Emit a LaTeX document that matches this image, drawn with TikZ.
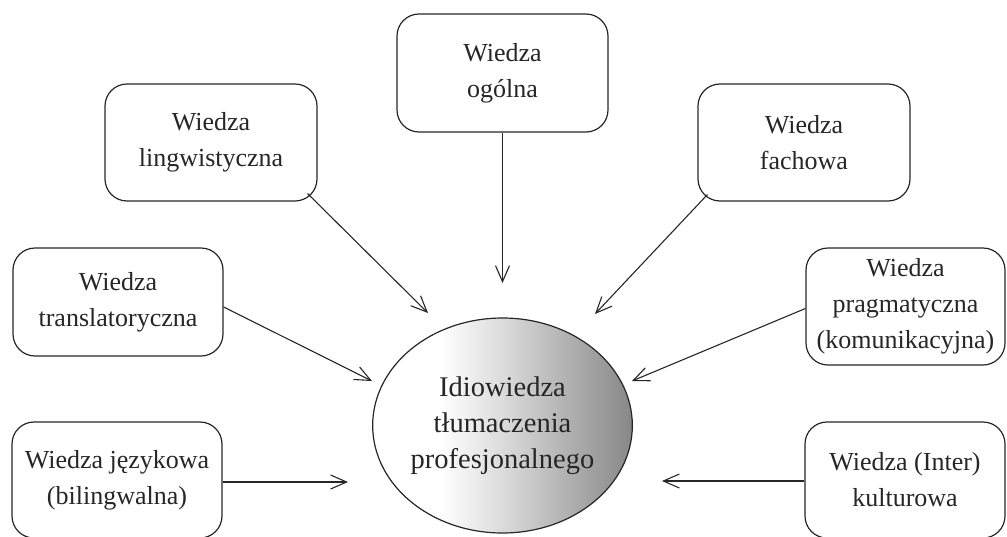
\documentclass[tikz,border=0pt]{standalone}
\usepackage{fontspec}
\setmainfont{Liberation Serif}
\usetikzlibrary{shapes.geometric,arrows.meta,calc}

% left part white, darkening towards the right edge
\pgfdeclarehorizontalshading{idioshade}{100bp}{%
  color(0bp)=(white);
  color(25bp)=(white);
  color(38bp)=(white);
  color(50bp)=(black!14);
  color(62bp)=(black!30);
  color(75bp)=(black!47);
  color(100bp)=(black!47)}

\tikzset{
  knowbox/.style={draw=black!85, line width=1.2pt, rounded corners=22pt,
    align=center, inner sep=0pt,
    font=\fontsize{26}{36}\selectfont, text=black!85},
  core/.style={ellipse, draw=black!85, line width=1.2pt, shading=idioshade,
    align=center, inner sep=0pt, minimum width=255pt, minimum height=215pt,
    font=\fontsize{28.5}{36}\selectfont, text=black!85},
  feed/.style={draw=black!85, line width=1.1pt,
    -{Straight Barb[length=16pt,width=14pt,line width=1.1pt]}}
}

\begin{document}
\begin{tikzpicture}[x=1pt,y=-1pt]
\useasboundingbox (0,0) rectangle (1007,536);

% central ellipse
\node[core] (idio) at (502.5,425.5) {Idiowiedza\\tłumaczenia\\profesjonalnego};

% surrounding knowledge boxes
\node[knowbox, minimum width=211pt, minimum height=118pt] (ogol) at (502.5,73)
  {Wiedza\\ogólna};
\node[knowbox, minimum width=212pt, minimum height=117pt] (ling) at (211,142.5)
  {Wiedza\\lingwistyczna};
\node[knowbox, minimum width=212pt, minimum height=117pt] (fach) at (804,142.5)
  {Wiedza\\fachowa};
\node[knowbox, minimum width=210pt, minimum height=108pt] (trans) at (118,302)
  {Wiedza\\translatoryczna};
\node[knowbox, minimum width=199pt, minimum height=117pt] (prag) at (905.5,306.5)
  {Wiedza\\pragmatyczna\\(komunikacyjna)};
\node[knowbox, minimum width=210pt, minimum height=116pt] (jez) at (117,480)
  {Wiedza językowa\\(bilingwalna)};
\node[knowbox, minimum width=200pt, minimum height=116pt] (kult) at (905,480)
  {Wiedza (Inter)\\kulturowa};

% arrow tips, stopping short of the ellipse
\coordinate (tOgol)  at (502.5,283);
\coordinate (tLing)  at (428,313);
\coordinate (tFach)  at (595,314);
\coordinate (tTrans) at (372,381);
\coordinate (tPrag)  at (632,381);
\coordinate (tJez)   at (348,482);
\coordinate (tKult)  at (662,481);

% connectors
\draw[feed] (ogol.south) -- (tOgol);
\draw[feed] ($(ling.south east)+(-10,-8)$) -- (tLing);
\draw[feed] ($(fach.south west)+(10,-7)$) -- (tFach);
\draw[feed] ($(trans.east)+(0,5)$) -- (tTrans);
\draw[feed] ($(prag.west)+(0,2)$) -- (tPrag);
\draw[feed] ($(jez.east)+(0,2)$) -- (tJez);
\draw[feed] ($(kult.west)+(0,1)$) -- (tKult);
\end{tikzpicture}
\end{document}
